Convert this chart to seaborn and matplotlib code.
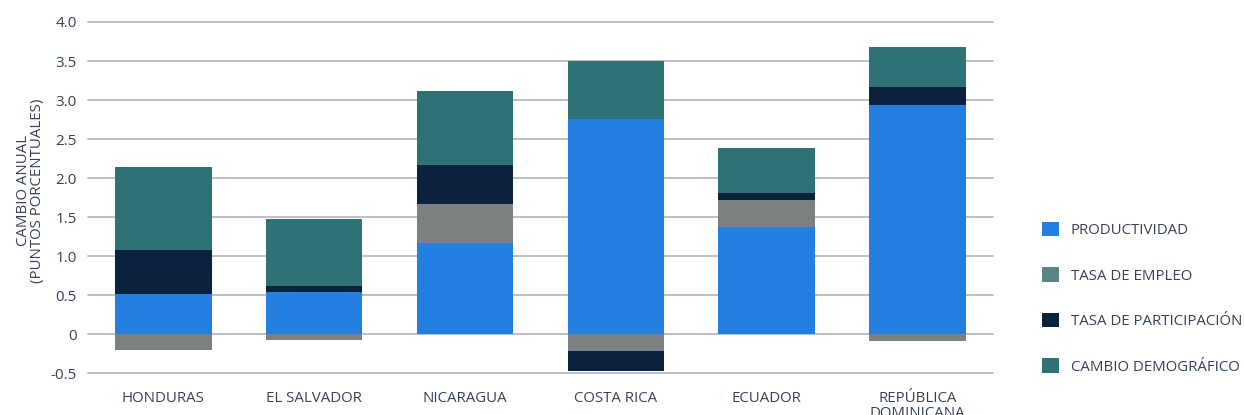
import numpy as np
import pandas as pd
import seaborn as sns
import matplotlib.pyplot as plt
from matplotlib.patches import Patch

paises = ["HONDURAS", "EL SALVADOR", "NICARAGUA", "COSTA RICA", "ECUADOR", "REPÚBLICA\nDOMINICANA"]
productividad = [0.51, 0.54, 1.17, 2.76, 1.37, 2.94]
tasa_empleo = [-0.20, -0.08, 0.50, -0.22, 0.35, -0.09]
tasa_participacion = [0.57, 0.07, 0.50, -0.25, 0.09, 0.23]
cambio_demografico = [1.06, 0.87, 0.95, 0.74, 0.58, 0.51]

componentes = ["PRODUCTIVIDAD", "TASA DE EMPLEO", "TASA DE PARTICIPACIÓN", "CAMBIO DEMOGRÁFICO"]
series = [productividad, tasa_empleo, tasa_participacion, cambio_demografico]
colores_barra = ["#237ee0", "#7d8080", "#0a2240", "#2e7275"]
colores_leyenda = ["#237ee0", "#5a8586", "#0a2240", "#2e7275"]

y_ticks = [-0.5, 0, 0.5, 1.0, 1.5, 2.0, 2.5, 3.0, 3.5, 4.0]
y_tick_labels = ["-0.5", "0", "0.5", "1.0", "1.5", "2.0", "2.5", "3.0", "3.5", "4.0"]

sns.set_theme(style="white")
plt.rcParams["font.family"] = ["Open Sans", "DejaVu Sans"]
texto = "#34425a"

fig = plt.figure(figsize=(12.44, 4.15), dpi=100)
ax = fig.add_axes([0.0707, 0.101, 0.7275, 0.846])

# stacked bars: positive parts grow upward, negative parts downward
pos_base = np.zeros(len(paises))
neg_base = np.zeros(len(paises))
for nombre, valores, color in zip(componentes, series, colores_barra):
    v = np.array(valores, dtype=float)
    bottom = np.where(v >= 0, pos_base, neg_base)
    df = pd.DataFrame({"pais": paises, "valor": v})
    sns.barplot(data=df, x="pais", y="valor", color=color, bottom=bottom,
                width=0.64, saturation=1, ax=ax, zorder=3, linewidth=0)
    pos_base = pos_base + np.where(v > 0, v, 0)
    neg_base = neg_base + np.where(v < 0, v, 0)

ax.set_ylim(-0.5, 4.0)
ax.set_xlim(-0.5, len(paises) - 0.5)
ax.set_yticks(y_ticks)
ax.set_yticklabels(y_tick_labels)
for y in y_ticks:
    ax.axhline(y, color="#b9bac2", lw=1.3, zorder=1, clip_on=False)
for s in ax.spines.values():
    s.set_visible(False)
ax.tick_params(axis="y", length=0, pad=8, labelsize=11, labelcolor=texto)
ax.tick_params(axis="x", length=0, pad=13, labelsize=10.8, labelcolor=texto)
for lbl in ax.get_xticklabels():
    lbl.set_verticalalignment("top")
    lbl.set_linespacing(1.0)
ax.set_xlabel("")
ax.set_ylabel("")
fig.text(0.0245, 0.54, "CAMBIO ANUAL\n(PUNTOS PORCENTUALES)", rotation=90,
         ha="center", va="center", fontsize=10.8, color=texto, linespacing=0.95)

handles = [Patch(facecolor=c, edgecolor="none") for c in colores_leyenda]
fig.legend(handles, componentes, loc="upper left", bbox_to_anchor=(0.833, 0.48),
           frameon=False, fontsize=10.8, labelcolor=texto, handlelength=1.1,
           handleheight=1.1, handletextpad=0.8, labelspacing=1.95, borderaxespad=0)

fig.savefig("out.png", dpi=100)
